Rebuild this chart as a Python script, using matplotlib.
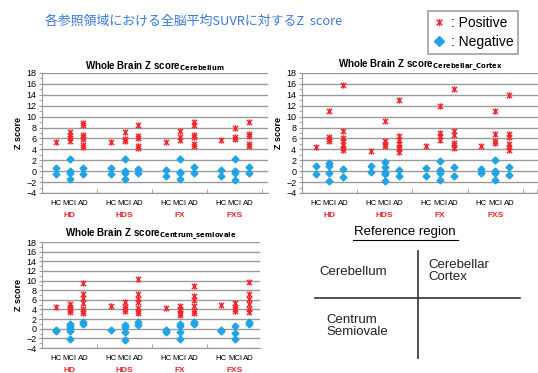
import matplotlib
matplotlib.use('Agg')
import matplotlib.pyplot as plt
from matplotlib.path import Path
from matplotlib.lines import Line2D

plt.rcParams['font.family'] = ['Liberation Sans', 'DejaVu Sans']

groups = ['HD', 'HDS', 'FX', 'FXS']
stages = ['HC', 'MCI', 'AD']

# positive / negative z scores per group, per stage (HC, MCI, AD)
cereb_pos = {
    'HD':  [[5.3], [7.2, 6.6, 6.0, 5.6], [8.9, 8.4, 6.6, 6.2, 5.9, 4.8, 4.5]],
    'HDS': [[5.3], [7.1, 5.9, 5.5], [8.4, 6.5, 6.1, 4.6, 4.3]],
    'FX':  [[5.3], [7.4, 6.2, 5.8], [9.0, 8.5, 6.7, 6.2, 5.0, 4.6]],
    'FXS': [[5.8], [8.0, 6.3, 5.9], [9.1, 6.9, 6.5, 4.9, 4.6]],
}
cereb_neg = {
    'HD':  [[0.5, -0.6], [2.2, 0.0, -0.4, -1.5], [0.5, -0.6]],
    'HDS': [[0.5, -0.5], [2.2, 0.0, -0.4, -1.5], [0.4, -0.4]],
    'FX':  [[0.2, -0.9], [2.2, -0.1, -0.4, -1.4], [0.8, -0.3]],
    'FXS': [[0.2, -0.9], [2.2, 0.0, -0.4, -1.6], [0.7, -0.3]],
}
cortex_pos = {
    'HD':  [[4.4], [11.0, 6.2, 5.9, 5.6], [15.8, 7.4, 6.0, 5.5, 4.8, 4.2, 3.8]],
    'HDS': [[3.7], [9.2, 5.5, 5.0, 4.7], [13.1, 6.4, 5.8, 5.0, 4.4, 4.0, 3.5]],
    'FX':  [[4.7], [12.0, 7.0, 6.5, 5.8], [15.1, 7.3, 6.6, 5.2, 4.8, 4.2]],
    'FXS': [[4.7], [11.1, 6.9, 5.5, 5.1], [14.0, 6.8, 6.2, 5.0, 4.4, 3.9]],
}
cortex_neg = {
    'HD':  [[1.0, -0.5], [1.5, 1.0, -0.3, -1.8], [0.4, -1.0]],
    'HDS': [[1.0, -0.2], [1.6, 0.7, -0.2, -0.6, -1.8], [0.2, -0.8]],
    'FX':  [[0.5, -0.8], [1.9, 0.2, -0.3, -1.6], [0.8, -0.9]],
    'FXS': [[0.4, -0.4], [2.0, 0.0, -0.4, -1.6], [0.7, -0.7]],
}
centrum_pos = {
    'HD':  [[4.5], [5.2, 4.6, 4.2, 3.8, 3.4], [9.6, 7.2, 6.4, 5.3, 4.2, 3.6, 3.2]],
    'HDS': [[4.7], [5.5, 4.5, 4.0, 3.6], [10.3, 7.3, 6.2, 5.5, 4.3, 3.6, 3.2]],
    'FX':  [[4.4], [4.8, 4.2, 3.8, 3.3, 2.9], [8.8, 6.7, 6.0, 4.8, 3.6, 3.3]],
    'FXS': [[4.9], [5.4, 4.6, 4.0, 3.6], [9.8, 7.2, 6.2, 5.2, 4.2, 3.4]],
}
centrum_neg = {
    'HD':  [[-0.2, -0.4], [1.0, 0.6, 0.2, -0.5, -2.2], [1.4, 1.0]],
    'HDS': [[-0.3], [0.8, 0.4, -0.6, -2.4], [1.3, 0.8]],
    'FX':  [[-0.2, -0.6], [1.0, 0.5, -0.6, -2.2], [1.4, 0.9]],
    'FXS': [[-0.2, -0.5], [0.6, -0.8, -2.2], [1.3, 0.9]],
}

RED = '#F0282D'
BLUE = '#22A4E4'

# excel style star marker: x with a vertical bar
star = Path([(-1, -1), (1, 1), (-1, 1), (1, -1), (0, -1.2), (0, 1.2)],
            [Path.MOVETO, Path.LINETO, Path.MOVETO, Path.LINETO, Path.MOVETO, Path.LINETO])


def draw_panel(rect, pos, neg, sub, xmax, grp_y):
    ax = fig.add_axes(rect)
    ticks, labels = [], []
    for gi, g in enumerate(groups):
        for si, s in enumerate(stages):
            x = gi * 4 + si + 1
            ticks.append(x)
            labels.append(s)
            ax.plot([x] * len(neg[g][si]), neg[g][si], linestyle='none', marker='D',
                    ms=3.5, color=BLUE, mec=BLUE, zorder=3)
            ax.plot([x] * len(pos[g][si]), pos[g][si], linestyle='none', marker=star,
                    ms=4.5, color=RED, mew=1.0, zorder=4)
        ax.text(gi * 4 + 2, grp_y, g, transform=ax.get_xaxis_transform(), ha='center',
                va='center', color=RED, fontsize=6, fontweight='bold')
    ax.set_xlim(0, xmax)
    ax.set_ylim(-4, 18)
    ax.set_yticks(range(-4, 19, 2))
    ax.set_yticks(range(-3, 18, 2), minor=True)
    ax.set_xticks(ticks)
    ax.set_xticklabels(labels)
    ax.set_xticks(range(0, int(xmax) + 1), minor=True)
    ax.tick_params(axis='x', which='major', length=0, labelsize=5.6, pad=5)
    ax.tick_params(axis='x', which='minor', length=3, color='#999999', direction='in')
    ax.tick_params(axis='y', which='both', length=2, color='#999999', labelsize=6.5, pad=2)
    ax.grid(axis='y', color='#9a9a9a', lw=1)
    ax.set_axisbelow(True)
    for sp in ['top', 'right']:
        ax.spines[sp].set_visible(False)
    for sp in ['left', 'bottom']:
        ax.spines[sp].set_color('#999999')
    ax.set_ylabel('Z score', fontsize=6.5, fontweight='bold', labelpad=2)
    ax.set_title('Whole Brain Z score$_{\\mathbf{' + sub + '}}$', fontsize=7,
                 fontweight='bold', pad=3)
    return ax


fig = plt.figure(figsize=(5.38, 3.73), dpi=100)

draw_panel([0.078, 0.4826, 0.420, 0.3217], cereb_pos, cereb_neg, 'Cerebellum', 16.4, -0.19)
draw_panel([0.561, 0.4826, 0.439, 0.3217], cortex_pos, cortex_neg, 'Cerebellar\\_Cortex', 17.1, -0.19)
draw_panel([0.078, 0.067, 0.405, 0.284], centrum_pos, centrum_neg, 'Centrum\\_semiovale', 15.8, -0.215)

fig.text(45 / 538, 1 - 21 / 373, '各参照領域における全脳平均SUVRに対するZ  score',
         family=['Noto Sans CJK JP', 'DejaVu Sans'], color='#3A78E0', fontsize=9.3, va='center')

handles = [Line2D([], [], linestyle='none', marker=star, ms=5, color=RED, mew=1.0),
           Line2D([], [], linestyle='none', marker='D', ms=5, color=BLUE)]
leg = fig.legend(handles, [': Positive', ': Negative'], loc='upper right',
                 bbox_to_anchor=(518 / 538, 1 - 11 / 373), fontsize=10, fancybox=False,
                 edgecolor='#888888', handlelength=1.0, handletextpad=0.3,
                 borderpad=0.35, labelspacing=0.35, borderaxespad=0)
leg.get_frame().set_linewidth(1.2)

# reference region table
fig.text(405 / 538, 1 - 232 / 373, 'Reference region', ha='center', va='center', fontsize=9.5)
fig.add_artist(Line2D([353 / 538, 458 / 538], [1 - 240 / 373] * 2, color='black', lw=0.8))
fig.add_artist(Line2D([418 / 538] * 2, [1 - 251 / 373, 1 - 358 / 373], color='#333333', lw=1.2))
fig.add_artist(Line2D([315 / 538, 520 / 538], [1 - 298 / 373] * 2, color='#333333', lw=1.2))
fig.text(319 / 538, 1 - 272 / 373, 'Cerebellum', va='center', fontsize=9.5, color='#222222')
fig.text(428 / 538, 1 - 271 / 373, 'Cerebellar\nCortex', va='center', fontsize=9.5,
         color='#222222', linespacing=1.0)
fig.text(326 / 538, 1 - 326 / 373, 'Centrum\nSemiovale', va='center', fontsize=9.5,
         color='#222222', linespacing=1.0)

fig.savefig('out.png', dpi=100)
